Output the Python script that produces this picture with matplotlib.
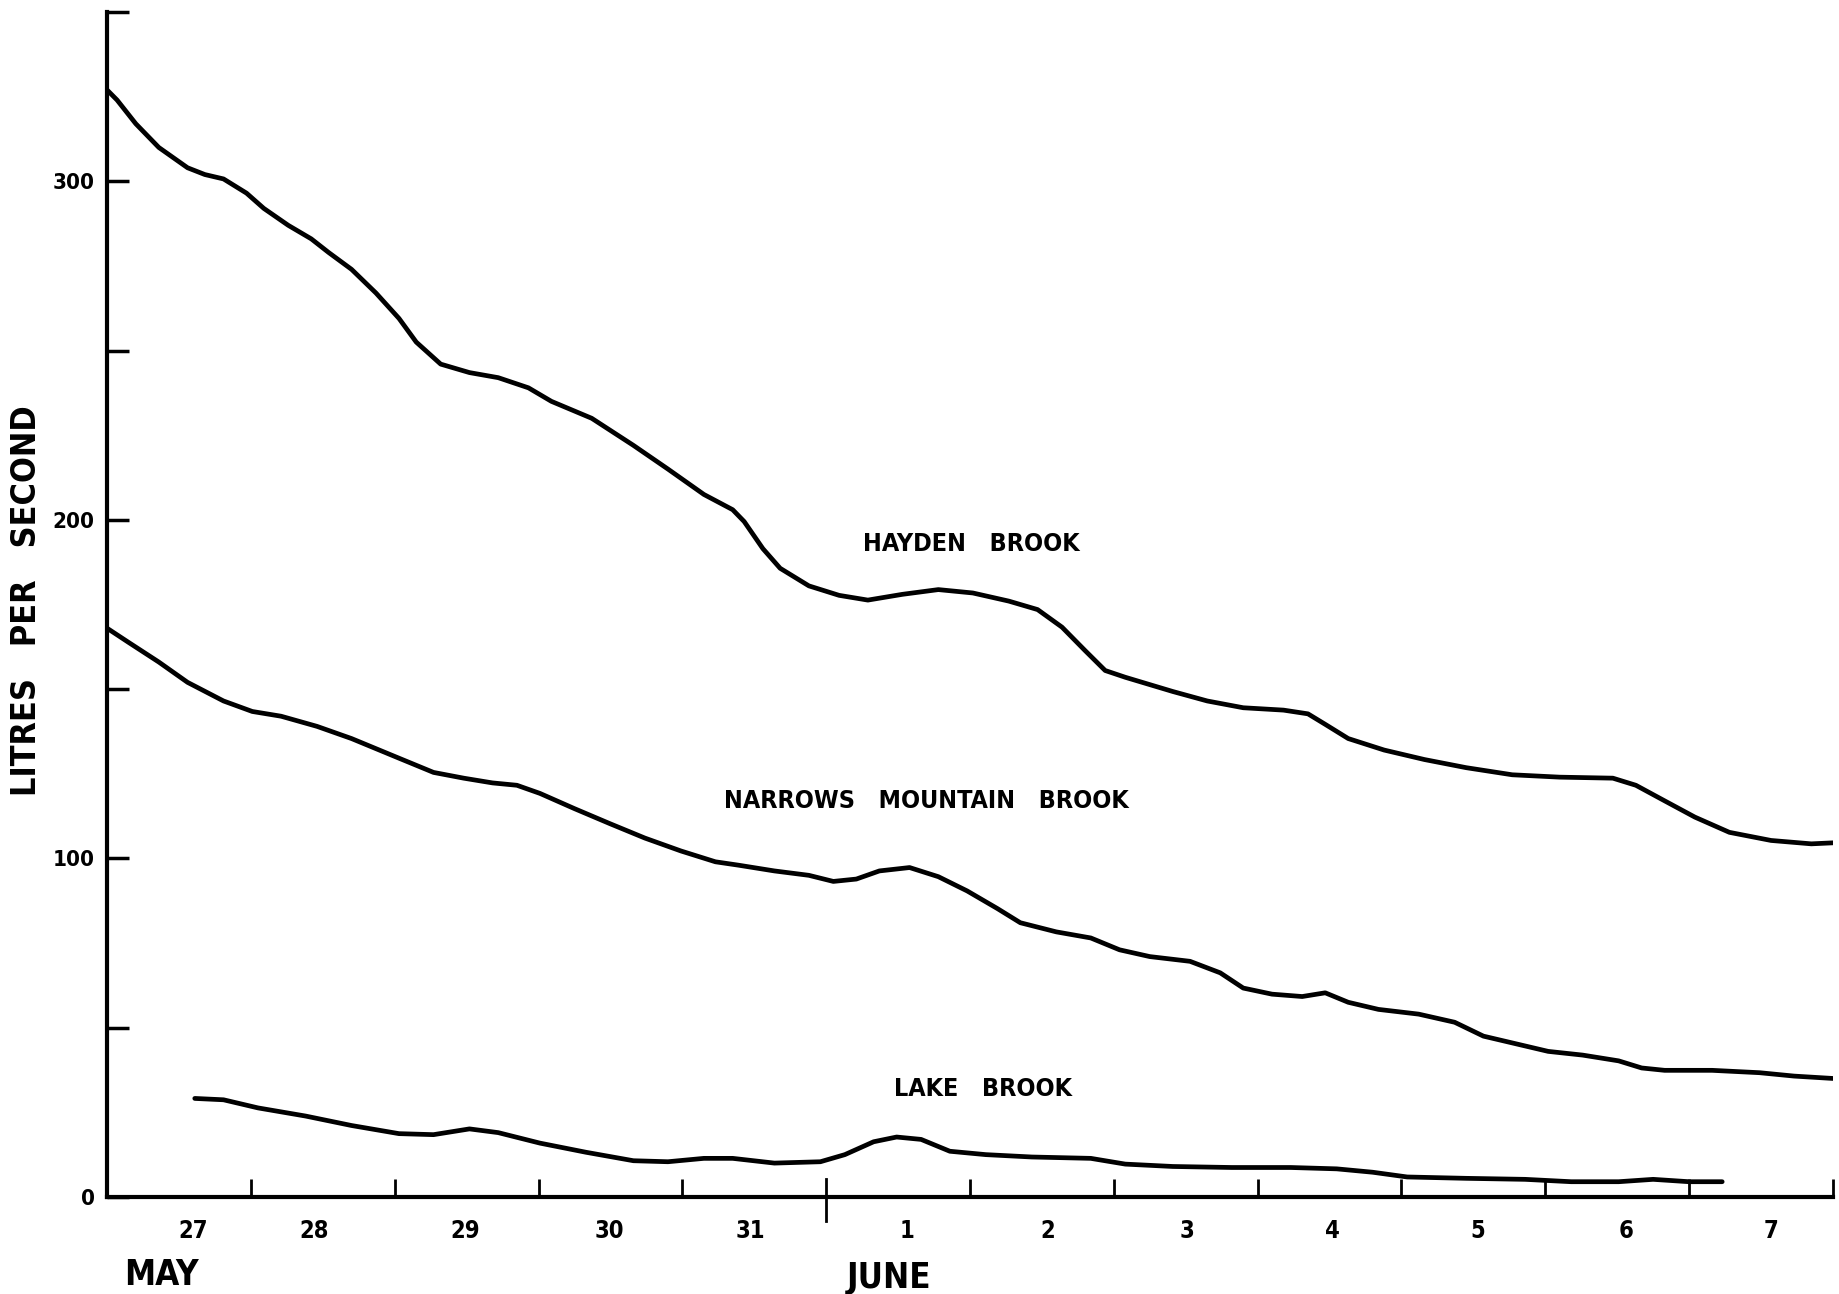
import matplotlib
matplotlib.use("Agg")
import matplotlib.pyplot as plt
import matplotlib.transforms as mtransforms

plt.rcParams['font.family'] = ['DejaVu Sans']
plt.rcParams['font.stretch'] = 'condensed'

# days since midnight 26/27 May (0 = start of May 27)
hayden_x = [0, 0.07, 0.2, 0.36, 0.56, 0.68, 0.81, 0.97, 1.09, 1.26, 1.42, 1.54,
            1.70, 1.87, 2.03, 2.15, 2.32, 2.52, 2.72, 2.93, 3.09, 3.37, 3.66,
            3.90, 4.15, 4.35, 4.43, 4.56, 4.68, 4.88, 5.09, 5.29, 5.53, 5.78,
            6.02, 6.27, 6.47, 6.64, 6.80, 6.94, 7.08, 7.41, 7.65, 7.90, 8.18,
            8.35, 8.47, 8.63, 8.88, 9.16, 9.45, 9.77, 10.10, 10.47, 10.63,
            10.83, 11.04, 11.28, 11.57, 11.85, 12.0]
hayden_y = [327, 324, 317, 310, 304, 302, 300.7, 296.5, 292, 287, 283, 279,
            274, 267, 259.5, 252.5, 246, 243.5, 242, 239, 235, 230, 222,
            215, 207.5, 203, 199.5, 191.5, 185.7, 180.5, 177.7, 176.3, 178, 179.4,
            178.4, 176, 173.5, 168.3, 161.4, 155.5, 153.5, 149.3, 146.5, 144.5, 143.8,
            142.7, 139.6, 135.4, 132, 129.2, 126.8, 124.7, 124, 123.7, 121.6,
            117, 112.2, 107.7, 105.3, 104.3, 104.6]

narrows_x = [0, 0.15, 0.36, 0.56, 0.81, 1.01, 1.21, 1.46, 1.70, 2.03, 2.27, 2.48,
             2.68, 2.85, 3.01, 3.25, 3.50, 3.74, 3.99, 4.23, 4.39, 4.64, 4.88,
             5.05, 5.21, 5.37, 5.58, 5.78, 5.98, 6.19, 6.35, 6.60, 6.84, 7.04,
             7.25, 7.53, 7.74, 7.90, 8.10, 8.31, 8.47, 8.63, 8.84, 9.12, 9.37,
             9.57, 9.82, 10.02, 10.26, 10.51, 10.67, 10.83, 11.16, 11.49, 11.73, 12.0]
narrows_y = [168, 163.8, 158, 152, 146.5, 143.4, 142, 139, 135.4, 129.6, 125.4, 123.7,
             122.3, 121.6, 119.2, 114.7, 110.2, 106, 102.2, 99, 98, 96.3, 95,
             93.2, 93.9, 96.3, 97.3, 94.6, 90.4, 85.2, 81, 78.3, 76.5, 73,
             71, 69.6, 66.2, 61.7, 59.9, 59.2, 60.3, 57.5, 55.4, 54, 51.6,
             47.5, 45, 43, 41.9, 40.2, 38.1, 37.4, 37.4, 36.7, 35.7, 35]

lake_x = [0.61, 0.81, 1.05, 1.38, 1.70, 2.03, 2.27, 2.52, 2.72, 3.01, 3.33, 3.66,
          3.90, 4.15, 4.35, 4.64, 4.96, 5.13, 5.33, 5.49, 5.66, 5.86, 6.11, 6.43,
          6.84, 7.08, 7.41, 7.82, 8.23, 8.55, 8.80, 9.04, 9.45, 9.86, 10.18,
          10.51, 10.75, 11.0, 11.23]
lake_y = [29.1, 28.7, 26.3, 23.9, 21.1, 18.7, 18.4, 20.1, 19, 15.9, 13.2, 10.7,
          10.4, 11.4, 11.4, 10, 10.4, 12.5, 16.3, 17.7, 17, 13.5, 12.5, 11.8,
          11.4, 9.7, 9, 8.7, 8.7, 8.3, 7.3, 5.9, 5.5, 5.2, 4.5,
          4.5, 5.2, 4.5, 4.5]

day_labels = ['27', '28', '29', '30', '31', '1', '2', '3', '4', '5', '6', '7']
# hand-lettered positions, roughly mid-day
day_label_x = [0.6, 1.44, 2.49, 3.49, 4.47, 5.56, 6.54, 7.51, 8.52, 9.53, 10.56, 11.57]
y_ticks = [0, 50, 100, 150, 200, 250, 300, 350]
y_labels = ['0', '', '100', '', '200', '', '300', '']

fig = plt.figure(figsize=(18.39, 12.94), dpi=100)
ax = fig.add_axes([0.0582, 0.075, 0.9385, 0.9157])

for xs, ys in [(hayden_x, hayden_y), (narrows_x, narrows_y), (lake_x, lake_y)]:
    ax.plot(xs, ys, color='black', lw=3.4, solid_capstyle='round', solid_joinstyle='round')

ax.set_xlim(0, 12)
ax.set_ylim(0, 350)
for s in ['top', 'right']:
    ax.spines[s].set_visible(False)
for s in ['left', 'bottom']:
    ax.spines[s].set_linewidth(3)

ax.set_yticks(y_ticks)
ax.set_yticklabels(y_labels, fontsize=16, fontweight='bold')
ax.tick_params(axis='y', direction='in', length=16, width=2.5, pad=9)

ax.set_xticks([1, 2, 3, 4, 6, 7, 8, 9, 10, 11, 12])
ax.set_xticklabels([])
ax.tick_params(axis='x', which='major', direction='in', length=13, width=2)

# month boundary mark
ax.axvline(5, ymin=-0.02, ymax=0.015, color='black', lw=2, clip_on=False)

trans = mtransforms.blended_transform_factory(ax.transData, ax.transAxes)
for x, lab in zip(day_label_x, day_labels):
    ax.text(x, -0.0287, lab, transform=trans, ha='center', va='center',
            fontsize=17, fontweight='bold')
ax.text(0.375, -0.066, 'MAY', transform=trans, ha='center', va='center',
        fontsize=25, fontweight='bold')
ax.text(5.44, -0.068, 'JUNE', transform=trans, ha='center', va='center',
        fontsize=25, fontweight='bold')

lbl = dict(ha='center', va='center', fontsize=18, fontweight='bold')
ax.text(6.01, 193, 'HAYDEN   BROOK', **lbl)
ax.text(5.70, 117, 'NARROWS   MOUNTAIN   BROOK', **lbl)
ax.text(6.09, 32, 'LAKE   BROOK', **lbl)

fig.text(27 / 1839, 1 - 601 / 1294, 'LITRES   PER   SECOND', rotation=90,
         ha='center', va='center', fontsize=24.5, fontweight='bold')

fig.savefig('out.png', dpi=100)
